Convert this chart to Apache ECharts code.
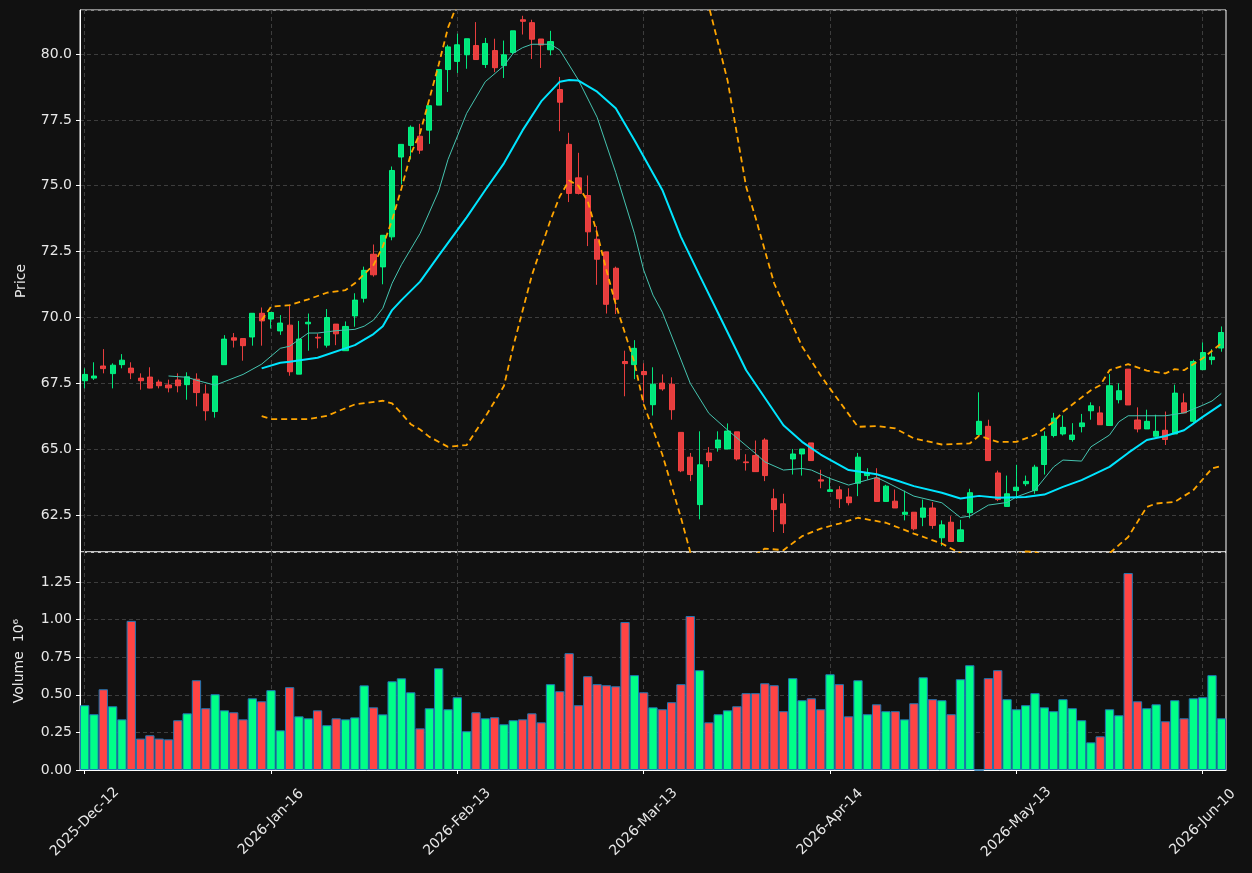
<!DOCTYPE html>
<html>
<head>
<meta charset="utf-8">
<title>Price / Volume</title>
<script src="https://cdn.jsdelivr.net/npm/echarts@6.0.0/dist/echarts.min.js"></script>
<style>
  html, body { margin: 0; padding: 0; background: #111111; }
  #chart { width: 1252px; height: 873px; }
</style>
</head>
<body>
<div id="chart"></div>
<script>
  // trading days shown on the x axis
  const dates = [
    "2025-Dec-12", "2025-Dec-15", "2025-Dec-16", "2025-Dec-17", "2025-Dec-18", "2025-Dec-19",
    "2025-Dec-22", "2025-Dec-23", "2025-Dec-29", "2025-Dec-30", "2025-Dec-31",
    "2026-Jan-05", "2026-Jan-06", "2026-Jan-07", "2026-Jan-08", "2026-Jan-09",
    "2026-Jan-12", "2026-Jan-13", "2026-Jan-14", "2026-Jan-15", "2026-Jan-16",
    "2026-Jan-19", "2026-Jan-20", "2026-Jan-21", "2026-Jan-22", "2026-Jan-23",
    "2026-Jan-26", "2026-Jan-27", "2026-Jan-28", "2026-Jan-29", "2026-Jan-30",
    "2026-Feb-02", "2026-Feb-03", "2026-Feb-04", "2026-Feb-05", "2026-Feb-06",
    "2026-Feb-09", "2026-Feb-10", "2026-Feb-11", "2026-Feb-12", "2026-Feb-13",
    "2026-Feb-16", "2026-Feb-17", "2026-Feb-18", "2026-Feb-19", "2026-Feb-20",
    "2026-Feb-23", "2026-Feb-24", "2026-Feb-25", "2026-Feb-26", "2026-Feb-27",
    "2026-Mar-02", "2026-Mar-03", "2026-Mar-04", "2026-Mar-05", "2026-Mar-06",
    "2026-Mar-09", "2026-Mar-10", "2026-Mar-11", "2026-Mar-12", "2026-Mar-13",
    "2026-Mar-16", "2026-Mar-17", "2026-Mar-18", "2026-Mar-19", "2026-Mar-20",
    "2026-Mar-23", "2026-Mar-24", "2026-Mar-25", "2026-Mar-26", "2026-Mar-27",
    "2026-Mar-30", "2026-Mar-31", "2026-Apr-01", "2026-Apr-02",
    "2026-Apr-07", "2026-Apr-08", "2026-Apr-09", "2026-Apr-10", "2026-Apr-13", "2026-Apr-14",
    "2026-Apr-15", "2026-Apr-16", "2026-Apr-17",
    "2026-Apr-20", "2026-Apr-21", "2026-Apr-22", "2026-Apr-23", "2026-Apr-24",
    "2026-Apr-27", "2026-Apr-28", "2026-Apr-29", "2026-Apr-30",
    "2026-May-04", "2026-May-05", "2026-May-06", "2026-May-07", "2026-May-08",
    "2026-May-11", "2026-May-12", "2026-May-13", "2026-May-14", "2026-May-15",
    "2026-May-18", "2026-May-19", "2026-May-20", "2026-May-21", "2026-May-22",
    "2026-May-25", "2026-May-26", "2026-May-27", "2026-May-28", "2026-May-29",
    "2026-Jun-01", "2026-Jun-02", "2026-Jun-03", "2026-Jun-04", "2026-Jun-05",
    "2026-Jun-08", "2026-Jun-09", "2026-Jun-10", "2026-Jun-11", "2026-Jun-12"
  ];

  // [open, close, low, high]
  const ohlc = [
    [67.60, 67.84, 67.31, 68.07], [67.70, 67.78, 67.63, 68.30], [68.16, 68.06, 67.88, 68.80],
    [67.87, 68.19, 67.31, 68.26], [68.21, 68.38, 68.07, 68.61], [68.08, 67.90, 67.66, 68.30],
    [67.70, 67.60, 67.26, 67.88], [67.74, 67.32, 67.31, 68.11], [67.55, 67.41, 67.31, 67.64],
    [67.44, 67.33, 67.16, 67.64], [67.63, 67.41, 67.16, 67.88], [67.45, 67.75, 66.88, 67.92],
    [67.66, 67.15, 66.63, 67.88], [67.10, 66.46, 66.09, 67.46], [66.43, 67.78, 66.20, 67.78],
    [68.21, 69.18, 68.21, 69.33], [69.23, 69.14, 68.86, 69.41], [69.20, 68.93, 68.36, 69.20],
    [69.26, 70.16, 68.93, 70.16], [70.16, 69.87, 68.93, 70.38], [69.94, 70.19, 69.58, 70.19],
    [69.49, 69.79, 69.34, 70.09], [69.71, 67.94, 67.79, 70.47], [67.85, 69.18, 67.85, 69.87],
    [69.76, 69.82, 68.74, 70.15], [69.25, 69.22, 68.83, 69.39], [68.95, 70.00, 68.86, 70.32],
    [69.75, 69.38, 68.95, 69.75], [68.74, 69.66, 68.74, 69.85], [70.06, 70.66, 69.65, 70.92],
    [70.73, 71.79, 70.57, 71.93], [72.40, 71.62, 71.55, 72.77], [71.92, 73.12, 71.26, 73.12],
    [73.06, 75.58, 72.93, 75.73], [76.09, 76.57, 75.05, 76.57], [76.53, 77.22, 76.00, 77.29],
    [76.88, 76.35, 76.21, 77.35], [77.11, 78.04, 76.59, 78.04], [78.06, 79.41, 78.06, 79.41],
    [79.41, 80.27, 78.56, 80.35], [79.72, 80.35, 79.28, 80.77], [79.97, 80.58, 79.44, 80.58],
    [80.32, 79.79, 79.79, 81.21], [79.60, 80.40, 79.47, 80.61], [80.13, 79.48, 79.31, 80.58],
    [79.56, 79.97, 79.09, 80.51], [80.06, 80.88, 80.00, 80.88], [81.30, 81.24, 80.74, 81.45],
    [81.19, 80.56, 79.81, 81.30], [80.57, 80.34, 79.47, 80.57], [80.16, 80.47, 79.95, 80.88],
    [78.65, 78.17, 77.07, 79.13], [76.57, 74.71, 74.38, 77.01], [75.30, 74.71, 74.67, 76.25],
    [74.63, 73.25, 72.71, 75.39], [72.97, 72.21, 71.24, 73.47], [72.49, 70.50, 70.15, 72.49],
    [71.87, 70.69, 70.13, 71.93], [68.33, 68.25, 67.01, 68.74], [68.21, 68.83, 67.66, 69.14],
    [67.95, 67.83, 66.78, 68.26], [66.69, 67.47, 66.28, 68.11], [67.51, 67.29, 67.22, 67.84],
    [67.47, 66.50, 66.12, 67.73], [65.64, 64.18, 64.13, 65.64], [64.70, 64.04, 63.79, 64.86],
    [62.90, 64.41, 62.34, 65.68], [64.86, 64.57, 64.32, 65.08], [65.05, 65.35, 64.91, 65.68],
    [65.01, 65.69, 65.01, 65.98], [65.66, 64.63, 64.57, 65.66], [64.52, 64.49, 64.19, 64.81],
    [64.76, 64.15, 64.15, 65.33], [65.35, 64.00, 63.79, 65.42], [63.12, 62.71, 61.86, 63.50],
    [62.93, 62.17, 61.82, 63.31], [64.63, 64.82, 64.04, 65.01], [64.82, 65.01, 64.00, 65.01],
    [65.24, 64.57, 64.57, 65.24], [63.84, 63.79, 63.52, 64.22], [63.40, 63.46, 63.40, 63.94],
    [63.46, 63.12, 62.77, 63.60], [63.19, 62.97, 62.87, 63.52], [63.71, 64.70, 63.22, 64.86],
    [64.00, 64.10, 63.85, 64.28], [63.91, 63.02, 63.02, 64.28], [63.02, 63.60, 63.02, 63.65],
    [63.03, 62.77, 62.77, 63.47], [62.53, 62.61, 62.30, 63.43], [62.61, 61.98, 61.92, 62.61],
    [62.42, 62.77, 62.08, 63.09], [62.77, 62.11, 61.98, 62.99], [61.64, 62.13, 61.33, 62.30],
    [62.23, 61.50, 61.50, 62.46], [61.50, 61.94, 61.48, 62.32], [62.59, 63.35, 62.38, 63.50],
    [65.56, 66.06, 65.56, 67.16], [65.87, 64.57, 64.57, 66.12], [64.10, 63.09, 63.03, 64.19],
    [62.83, 63.31, 62.83, 64.00], [63.43, 63.56, 63.12, 64.41], [63.69, 63.78, 63.60, 64.00],
    [63.43, 64.32, 63.31, 64.41], [64.42, 65.49, 64.04, 65.68], [65.52, 66.18, 65.45, 66.38],
    [65.58, 65.83, 65.52, 66.28], [65.37, 65.54, 65.29, 65.99], [65.86, 66.00, 65.64, 66.34],
    [66.46, 66.65, 66.12, 66.78], [66.38, 65.93, 65.93, 66.63], [65.90, 67.41, 65.90, 67.85],
    [66.88, 67.22, 66.74, 67.50], [68.04, 66.68, 66.68, 68.04], [66.11, 65.77, 65.64, 66.59],
    [65.77, 66.06, 65.77, 66.50], [65.49, 65.68, 65.49, 66.31], [65.72, 65.37, 65.16, 66.43],
    [65.58, 67.13, 65.58, 67.45], [66.76, 66.38, 66.38, 67.12], [66.06, 68.33, 66.00, 68.40],
    [68.02, 68.67, 68.02, 69.05], [68.40, 68.50, 68.21, 68.80], [68.84, 69.43, 68.70, 69.66]
  ];

  // volume, in millions
  const volumes = [
    0.431, 0.371, 0.537, 0.424, 0.337, 0.992, 0.209, 0.231, 0.209, 0.204,
    0.331, 0.377, 0.597, 0.411, 0.504, 0.397, 0.384, 0.337, 0.477, 0.457,
    0.531, 0.264, 0.551, 0.357, 0.344, 0.397, 0.298, 0.344, 0.337, 0.350,
    0.563, 0.417, 0.370, 0.590, 0.610, 0.517, 0.277, 0.411, 0.677, 0.404,
    0.484, 0.258, 0.384, 0.344, 0.351, 0.304, 0.331, 0.337, 0.377, 0.317,
    0.571, 0.524, 0.777, 0.431, 0.624, 0.571, 0.564, 0.557, 0.984, 0.631,
    0.517, 0.417, 0.404, 0.451, 0.571, 1.024, 0.664, 0.317, 0.371, 0.397,
    0.424, 0.511, 0.511, 0.577, 0.564, 0.391, 0.611, 0.464, 0.477, 0.404,
    0.637, 0.571, 0.357, 0.597, 0.371, 0.437, 0.391, 0.391, 0.337, 0.444,
    0.617, 0.471, 0.464, 0.371, 0.604, 0.697, 0.000, 0.611, 0.664, 0.471,
    0.404, 0.431, 0.511, 0.417, 0.391, 0.471, 0.411, 0.331, 0.184, 0.224,
    0.404, 0.364, 1.310, 0.457, 0.411, 0.437, 0.324, 0.464, 0.344, 0.477,
    0.484, 0.631, 0.344
  ];

  // indicator lines: [bar index, price]
  const maFast = [
    [9, 67.78], [11, 67.73], [12, 67.62], [14, 67.43], [17, 67.84], [19, 68.23],
    [21, 68.83], [22, 68.91], [24, 69.41], [25, 69.41], [27, 69.50], [29, 69.55],
    [30, 69.67], [31, 69.90], [32, 70.35], [33, 71.30], [34, 72.00], [36, 73.19],
    [38, 74.80], [39, 76.00], [41, 77.75], [43, 78.95], [45, 79.55], [46, 80.03],
    [47, 80.24], [48, 80.37], [50, 80.37], [51, 80.15], [53, 79.01], [55, 77.60],
    [57, 75.50], [59, 73.20], [60, 71.80], [61, 70.85], [62, 70.20], [65, 67.50],
    [67, 66.36], [69, 65.73], [72, 64.84], [73, 64.52], [75, 64.21], [77, 64.27],
    [78, 64.21], [80, 63.89], [82, 63.64], [85, 63.93], [86, 63.76], [89, 63.22],
    [92, 62.97], [94, 62.41], [95, 62.46], [97, 62.88], [99, 62.98], [100, 63.19],
    [102, 63.45], [104, 64.33], [105, 64.59], [107, 64.55], [108, 65.09], [110, 65.54],
    [111, 66.04], [112, 66.27], [114, 66.27], [116, 66.27], [118, 66.38], [120, 66.67],
    [121, 66.83], [122, 67.12]
  ];
  const maSlow = [
    [19, 68.07], [21, 68.28], [22, 68.32], [25, 68.47], [29, 68.95], [31, 69.37],
    [32, 69.67], [33, 70.28], [34, 70.66], [36, 71.36], [38, 72.35], [41, 73.80],
    [43, 74.84], [45, 75.85], [47, 77.10], [49, 78.20], [51, 78.95], [52, 79.01],
    [53, 78.99], [55, 78.57], [57, 77.94], [59, 76.74], [62, 74.84], [64, 73.06],
    [66, 71.60], [68, 70.16], [71, 68.00], [75, 65.91], [77, 65.28], [79, 64.80],
    [82, 64.21], [85, 64.05], [87, 63.83], [89, 63.60], [92, 63.35], [94, 63.13],
    [96, 63.23], [98, 63.16], [101, 63.19], [103, 63.28], [105, 63.57], [107, 63.83],
    [110, 64.33], [112, 64.86], [114, 65.35], [116, 65.50], [118, 65.72], [120, 66.23],
    [122, 66.70]
  ];
  const bandUpper = [
    [19, 69.90], [20, 70.41], [22, 70.47], [24, 70.69], [26, 70.94], [28, 71.04],
    [29, 71.30], [31, 71.99], [32, 72.70], [33, 73.70], [34, 74.90], [35, 76.20],
    [36, 77.00], [37, 78.30], [38, 79.60], [39, 81.00], [40, 81.90], [41, 83.00],
    [43, 84.80], [46, 86.00], [50, 86.50], [54, 87.20], [58, 87.50], [62, 86.50],
    [64, 85.00], [66, 82.90], [67, 81.80], [69, 79.00], [71, 74.96], [72, 73.80],
    [74, 71.30], [75, 70.50], [77, 68.90], [79, 67.80], [80, 67.30], [83, 65.85],
    [85, 65.88], [87, 65.79], [89, 65.41], [92, 65.18], [95, 65.22], [96, 65.51],
    [98, 65.28], [100, 65.28], [102, 65.54], [104, 66.04], [105, 66.42], [108, 67.24],
    [109, 67.43], [110, 68.00], [112, 68.23], [114, 67.98], [116, 67.88], [117, 68.04],
    [118, 68.00], [120, 68.45], [122, 69.02]
  ];
  const bandLower = [
    [19, 66.26], [20, 66.14], [24, 66.14], [26, 66.27], [29, 66.70], [32, 66.84],
    [33, 66.74], [34, 66.36], [35, 65.95], [36, 65.75], [37, 65.47], [39, 65.09],
    [41, 65.16], [43, 66.23], [45, 67.40], [46, 68.90], [48, 71.60], [50, 73.70],
    [51, 74.60], [52, 75.20], [53, 75.00], [54, 74.40], [55, 73.20], [56, 71.80],
    [57, 70.50], [59, 68.30], [60, 66.70], [62, 64.80], [64, 62.40], [65, 61.10],
    [66, 60.00], [67, 59.40], [68, 59.10], [69, 59.20], [70, 59.70], [71, 60.40],
    [72, 61.00], [73, 61.23], [75, 61.17], [77, 61.70], [79, 61.99], [81, 62.18],
    [83, 62.40], [86, 62.21], [89, 61.80], [92, 61.42], [94, 61.05], [96, 60.70],
    [98, 60.80], [100, 61.00], [101, 61.12], [102, 61.10], [104, 60.80], [106, 60.60],
    [108, 60.70], [110, 61.05], [112, 61.67], [114, 62.81], [115, 62.94], [117, 63.00],
    [119, 63.45], [121, 64.27], [122, 64.36]
  ];

  const UP = "#00ff88";
  const DOWN = "#ff4444";
  const TEXT = "#e8e8e8";
  const GRIDLINE = { color: "#3d3d3d", type: [4, 3], width: 1 };

  const chart = echarts.init(document.getElementById("chart"));

  const volumeData = volumes.map((v, i) => ({
    value: v,
    itemStyle: { color: ohlc[i][1] >= ohlc[i][0] ? UP : DOWN },
  }));

  const lineSeries = (name, data, color, width, type) => ({
    name: name,
    type: "line",
    xAxisIndex: 0,
    yAxisIndex: 0,
    data: data,
    symbol: "none",
    smooth: false,
    silent: true,
    lineStyle: { color: color, width: width, type: type || "solid" },
    z: 3,
  });

  chart.setOption({
    backgroundColor: "#111111",
    animation: false,
    textStyle: { fontFamily: "DejaVu Sans" },
    grid: [
      { left: 80, right: 26, top: 10, height: 542, show: true, borderColor: "#ffffff", borderWidth: 1 },
      { left: 80, right: 26, top: 552, height: 218, show: true, borderColor: "#ffffff", borderWidth: 1 },
    ],
    xAxis: [
      {
        type: "category",
        gridIndex: 0,
        data: dates,
        boundaryGap: true,
        axisLine: { show: false },
        axisTick: { show: false },
        axisLabel: { show: false },
        splitLine: { show: true, interval: 19, alignWithLabel: true, lineStyle: GRIDLINE },
      },
      {
        type: "category",
        gridIndex: 1,
        data: dates,
        boundaryGap: true,
        axisLine: { show: true, lineStyle: { color: "#ffffff" } },
        axisTick: { show: true, interval: 19, alignWithLabel: true, length: 4, lineStyle: { color: "#ffffff" } },
        axisLabel: {
          interval: 19,
          rotate: 45,
          align: "center",
          verticalAlign: "middle",
          margin: 52,
          color: TEXT,
          fontSize: 14,
        },
        splitLine: { show: true, interval: 19, alignWithLabel: true, lineStyle: GRIDLINE },
      },
    ],
    yAxis: [
      {
        type: "value",
        gridIndex: 0,
        min: 61.1,
        max: 81.67,
        splitNumber: 8,
        minInterval: 2.5,
        maxInterval: 2.5,
        name: "Price",
        nameLocation: "middle",
        nameGap: 52,
        nameTextStyle: { color: TEXT, fontSize: 14 },
        axisLine: { show: true, lineStyle: { color: "#ffffff" } },
        axisTick: { show: true, length: 4, lineStyle: { color: "#ffffff" } },
        axisLabel: {
          color: TEXT,
          fontSize: 14,
          showMinLabel: false,
          showMaxLabel: false,
          formatter: (v) => v.toFixed(1),
        },
        splitLine: { show: true, lineStyle: GRIDLINE },
      },
      {
        type: "value",
        gridIndex: 1,
        min: 0,
        max: 1.45,
        interval: 0.25,
        name: "Volume  10\u2076",
        nameLocation: "middle",
        nameGap: 54,
        nameTextStyle: { color: TEXT, fontSize: 14 },
        axisLine: { show: true, lineStyle: { color: "#ffffff" } },
        axisTick: { show: true, length: 4, lineStyle: { color: "#ffffff" } },
        axisLabel: {
          color: TEXT,
          fontSize: 14,
          showMaxLabel: false,
          formatter: (v) => v.toFixed(2),
        },
        splitLine: { show: true, lineStyle: GRIDLINE },
      },
    ],
    series: [
      {
        name: "Price",
        type: "candlestick",
        xAxisIndex: 0,
        yAxisIndex: 0,
        data: ohlc,
        barWidth: "60%",
        itemStyle: {
          color: "rgba(0,255,136,0.9)",
          color0: "rgba(255,68,68,0.9)",
          borderColor: "rgba(0,255,136,0.9)",
          borderColor0: "rgba(255,68,68,0.9)",
          borderWidth: 1,
        },
        z: 2,
      },
      lineSeries("MA fast", maFast, "#45c4b0", 1),
      lineSeries("MA slow", maSlow, "#00e5ff", 2),
      lineSeries("Upper band", bandUpper, "#ffa500", 1.8, [6, 4]),
      lineSeries("Lower band", bandLower, "#ffa500", 1.8, [6, 4]),
      {
        name: "Volume",
        type: "bar",
        xAxisIndex: 1,
        yAxisIndex: 1,
        data: volumeData,
        barWidth: "100%",
        barCategoryGap: 0,
        itemStyle: { borderColor: "#1f77b4", borderWidth: 1 },
      },
    ],
  });
</script>
</body>
</html>
